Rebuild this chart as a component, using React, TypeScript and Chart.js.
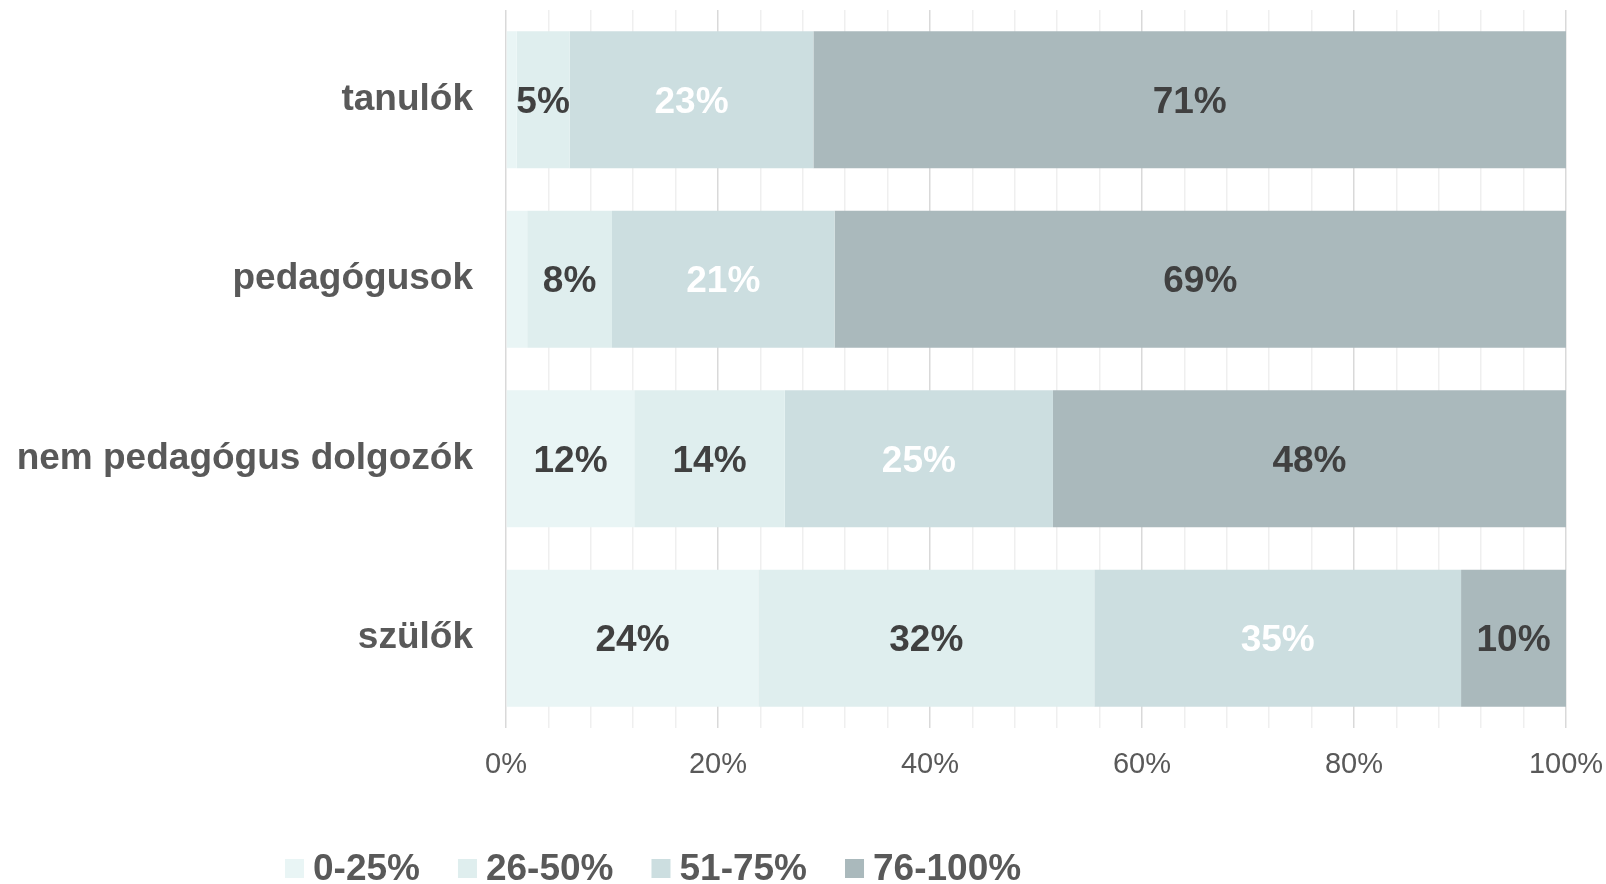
import React, { useEffect, useRef } from "react";
import { Chart, registerables } from "chart.js";

Chart.register(...registerables);

const categories = ["tanulók", "pedagógusok", "nem pedagógus dolgozók", "szülők"];
const seriesNames = ["0-25%", "26-50%", "51-75%", "76-100%"];
const s0to25 = [1, 2, 12.1, 23.8];
const s26to50 = [5, 8, 14.2, 31.7];
const s51to75 = [23, 21, 25.3, 34.6];
const s76to100 = [71, 69, 48.4, 9.9];
const xTicksMajor = [0, 20, 40, 60, 80, 100];

const colors = ["#e9f5f5", "#dfeeee", "#ccdee0", "#aab9bc"];
const labelColors = ["#404040", "#404040", "#ffffff", "#404040"];
const FONT = "'Liberation Sans', Arial, sans-serif";

const dataLabelPlugin = {
  id: "segLabels",
  afterDatasetsDraw(chart: any) {
    const ctx = chart.ctx;
    ctx.save();
    ctx.font = `bold 37px ${FONT}`;
    ctx.textAlign = "center";
    ctx.textBaseline = "middle";
    chart.data.datasets.forEach((ds: any, di: number) => {
      const meta = chart.getDatasetMeta(di);
      meta.data.forEach((el: any, i: number) => {
        const v = ds.data[i];
        if (v < 3) return;
        ctx.fillStyle = labelColors[di];
        ctx.fillText(Math.round(v) + "%", (el.x + el.base) / 2, el.y + 3);
      });
    });
    ctx.restore();
  },
};

const legendPlugin = {
  id: "customLegend",
  afterDraw(chart: any) {
    const ctx = chart.ctx;
    ctx.save();
    ctx.font = `bold 37px ${FONT}`;
    ctx.textAlign = "left";
    ctx.textBaseline = "middle";
    let x = 285;
    const cy = 870;
    seriesNames.forEach((name, i) => {
      ctx.fillStyle = colors[i];
      ctx.fillRect(x, cy - 11, 19, 19);
      x += 19 + 9;
      ctx.fillStyle = "#595959";
      ctx.fillText(name, x, cy);
      x += ctx.measureText(name).width + 38;
    });
    ctx.restore();
  },
};

export default function App() {
  const ref = useRef<HTMLCanvasElement | null>(null);
  useEffect(() => {
    document.body.style.margin = "0";
    if (!ref.current) return;
    const seriesData = [s0to25, s26to50, s51to75, s76to100];
    const chart = new Chart(ref.current, {
      type: "bar",
      data: {
        labels: categories,
        datasets: seriesData.map((d, i) => ({
          label: seriesNames[i],
          data: d,
          backgroundColor: colors[i],
          borderWidth: 0,
          categoryPercentage: 1,
          barPercentage: 0.764,
        })),
      },
      options: {
        indexAxis: "y",
        responsive: false,
        animation: false,
        layout: { padding: { top: 10, right: 40, bottom: 0, left: 0 } },
        plugins: {
          legend: { display: false },
          tooltip: { enabled: false },
        },
        scales: {
          x: {
            stacked: true,
            min: 0,
            max: 100,
            border: { display: false },
            grid: {
              drawTicks: false,
              color: (c: any) =>
                xTicksMajor.includes(c.tick?.value) ? "#d9d9d9" : "#efefef",
              lineWidth: 1.5,
            },
            ticks: {
              stepSize: 4,
              autoSkip: false,
              maxRotation: 0,
              padding: 20,
              color: "#595959",
              font: { family: FONT, size: 29 },
              callback: (v: any) => (xTicksMajor.includes(Number(v)) ? v + "%" : ""),
            },
            afterFit: (scale: any) => {
              scale.height = 156;
              scale.paddingLeft = 0;
              scale.paddingRight = 0;
            },
          },
          y: {
            stacked: true,
            border: { display: false },
            grid: { display: false, drawTicks: false },
            ticks: {
              padding: 33,
              color: "#595959",
              font: { family: FONT, size: 37, weight: "bold" },
            },
            afterFit: (scale: any) => {
              scale.width = 506;
              scale.paddingTop = 0;
              scale.paddingBottom = 0;
            },
          },
        },
      },
      plugins: [dataLabelPlugin, legendPlugin],
    } as any);
    return () => chart.destroy();
  }, []);
  return (
    <div style={{ width: 1606, height: 884, background: "#fff" }}>
      <canvas ref={ref} width={1606} height={884} />
    </div>
  );
}
